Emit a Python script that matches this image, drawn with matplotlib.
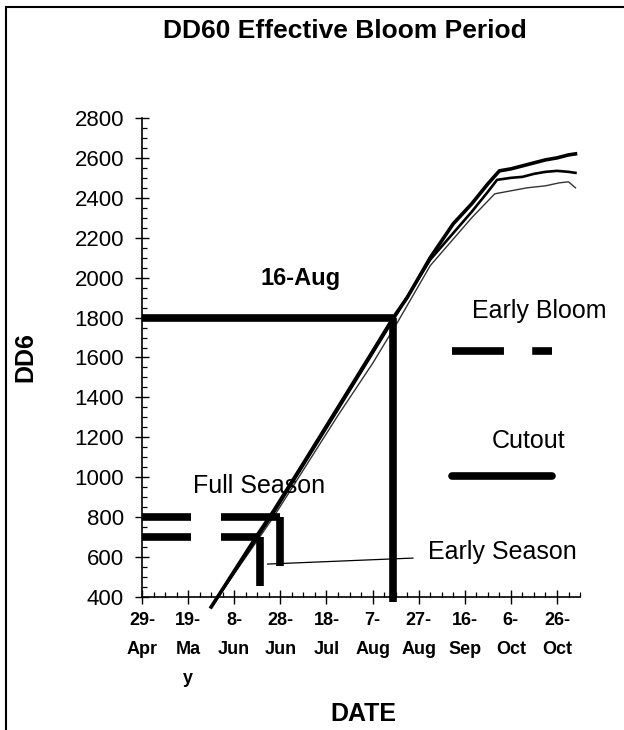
import numpy as np
import matplotlib
matplotlib.use('Agg')
import matplotlib.pyplot as plt
from matplotlib.lines import Line2D

plt.rcParams['font.family'] = ['Liberation Sans', 'DejaVu Sans']

# days counted from 29-Apr
tick_days = [0, 20, 40, 60, 80, 100, 120, 140, 160, 180]
tick_labels = ['29-\nApr', '19-\nMa\ny', '8-\nJun', '28-\nJun', '18-\nJul',
               '7-\nAug', '27-\nAug', '16-\nSep', '6-\nOct', '26-\nOct']

# DD60 accumulation curves
days_a = [30, 40, 50, 57, 70, 85, 100, 109, 115, 125, 135, 143, 150, 155, 160, 165, 170, 175, 180, 185, 188]
dd_a = [350, 530, 710, 830, 1070, 1350, 1630, 1800, 1900, 2100, 2270, 2370, 2470, 2535, 2545, 2560, 2575, 2590, 2600, 2615, 2620]

days_b = [30, 57, 85, 109, 125, 143, 150, 154, 160, 165, 170, 175, 180, 185, 188]
dd_b = [350, 820, 1340, 1790, 2090, 2330, 2430, 2490, 2500, 2505, 2520, 2530, 2535, 2530, 2525]

days_c = [30, 57, 85, 100, 111, 125, 143, 153, 160, 167, 175, 181, 185, 188]
dd_c = [350, 800, 1310, 1570, 1780, 2060, 2300, 2420, 2435, 2450, 2460, 2475, 2480, 2450]

# effective bloom markers
bloom_day = 109        # 16-Aug
bloom_dd = 1800
full_days = [0, 21.2, 34.1, 60]
full_upper = 800
full_lower = 700
early_days = [0, 21.2, 34.1, 51]
early_x = [54.5, 117.5]
early_y = [565, 595]
legend_x = [134.6, 178]
eb_y = 1630
cut_y = 1005

fig = plt.figure(figsize=(6.24, 7.30), dpi=100)
ax = fig.add_axes([0.2276, 0.1822, 0.702, 0.6562])

# curves
ax.plot(days_c, dd_c, color='#333333', lw=1.0, clip_on=False)
ax.plot(days_b, dd_b, color='black', lw=1.9, clip_on=False)
ax.plot(days_a, dd_a, color='black', lw=2.6, clip_on=False)

# 16-Aug cross lines
ax.plot([0, bloom_day], [bloom_dd, bloom_dd], color='black', lw=5.5, solid_capstyle='butt')
ax.plot([bloom_day, bloom_day], [bloom_dd, 375], color='black', lw=5.5,
        solid_capstyle='butt', clip_on=False)

# full / early season bars
ax.plot(full_days[:2], [full_upper] * 2, color='black', lw=5.5, solid_capstyle='butt')
ax.plot(full_days[2:], [full_upper] * 2, color='black', lw=5.5, solid_capstyle='butt')
ax.plot([full_days[3]] * 2, [full_upper, 555], color='black', lw=5.5, solid_capstyle='butt')
ax.plot(early_days[:2], [full_lower] * 2, color='black', lw=5.5, solid_capstyle='butt')
ax.plot(early_days[2:], [full_lower] * 2, color='black', lw=5.5, solid_capstyle='butt')
ax.plot([early_days[3]] * 2, [full_lower, 455], color='black', lw=5.5, solid_capstyle='butt')
ax.plot(early_x, early_y, color='black', lw=0.9)

# legend-like samples
ax.plot(legend_x, [eb_y] * 2, color='black', lw=5.5, ls=(0, (6.8, 3.7)))
ax.plot(legend_x, [cut_y] * 2, color='black', lw=5.5, solid_capstyle='round')

ax.text(51.4, 1995, '16-Aug', fontsize=17, fontweight='bold', va='center', ha='left')
ax.text(22, 920, 'Full Season', fontsize=18, va='baseline', ha='left')
ax.text(124, 590, 'Early Season', fontsize=18, va='baseline', ha='left')
ax.text(143, 1800, 'Early Bloom', fontsize=18, va='baseline', ha='left')
ax.text(151.7, 1145, 'Cutout', fontsize=18, va='baseline', ha='left')

ax.set_xlim(0, 190)
ax.set_ylim(400, 2800)
ax.set_xticks(tick_days)
ax.set_xticklabels(tick_labels, fontweight='bold', fontsize=13)
ax.set_xticks(np.arange(0, 191, 5), minor=True)
ax.set_yticks(np.arange(400, 2801, 200))
ax.set_yticks(np.arange(400, 2801, 50), minor=True)
ax.tick_params(axis='y', labelsize=16)
ax.tick_params(which='major', direction='inout', length=10, width=1.0)
ax.tick_params(which='minor', direction='in', length=3.5, width=0.9)
ax.tick_params(axis='y', which='major', pad=8)
ax.tick_params(axis='x', which='major', pad=6)
for t in ax.get_xticklabels():
    t.set_linespacing(1.9)

for s in ['top', 'right']:
    ax.spines[s].set_visible(False)
for s in ['left', 'bottom']:
    ax.spines[s].set_linewidth(1.2)

fig.text(0.553, 0.958, 'DD60 Effective Bloom Period', fontsize=19, fontweight='bold',
         ha='center', va='center')
fig.text(0.040, 0.511, 'DD6', fontsize=18, fontweight='bold', rotation=90,
         ha='center', va='center')
fig.text(0.583, 0.022, 'DATE', fontsize=18, fontweight='bold', ha='center', va='center')

# outer frame (left and top edges)
fig.add_artist(Line2D([0.01, 0.01], [0, 0.99], color='black', lw=1.5))
fig.add_artist(Line2D([0.01, 0.999], [0.99, 0.99], color='black', lw=1.5))

fig.savefig('out.png', dpi=100)
